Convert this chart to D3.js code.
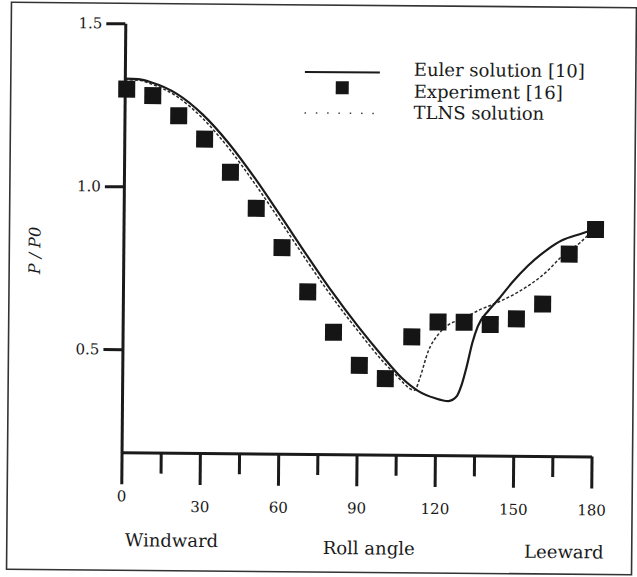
<!DOCTYPE html>
<html>
<head>
<meta charset="utf-8">
<script src="https://cdn.jsdelivr.net/npm/d3@7"></script>
<style>
  body { margin: 0; background: #fff; }
</style>
</head>
<body>
<div id="chart"></div>
<script>
// Experiment [16] (squares)
const expAngles = [0, 10, 20, 30, 40, 50, 60, 70, 80, 90, 100, 110, 120, 130, 140, 150, 160, 170, 180];
const expValues = [1.298, 1.279, 1.218, 1.147, 1.046, 0.936, 0.816, 0.681, 0.558, 0.457, 0.417, 0.546, 0.592, 0.592, 0.586, 0.604, 0.650, 0.804, 0.880];

// Euler solution [10] (solid)
const eulerAngles = [0, 5, 10, 20, 30, 40, 50, 60, 70, 80, 90, 100, 107, 113, 120, 125, 128, 130, 132, 134, 136, 140, 144, 149, 155, 162, 168, 175, 180];
const eulerValues = [1.330, 1.329, 1.320, 1.285, 1.222, 1.135, 1.030, 0.915, 0.797, 0.683, 0.578, 0.482, 0.420, 0.382, 0.358, 0.350, 0.363, 0.400, 0.460, 0.530, 0.580, 0.628, 0.665, 0.715, 0.767, 0.815, 0.846, 0.866, 0.880];

// TLNS solution (dashed)
const tlnsAngles = [0, 5, 10, 20, 30, 40, 50, 60, 70, 80, 90, 100, 105, 108, 110, 112, 114, 117, 121, 125, 130, 136, 143, 150, 156, 162, 168, 175, 180];
const tlnsValues = [1.327, 1.326, 1.315, 1.277, 1.210, 1.120, 1.013, 0.898, 0.780, 0.667, 0.564, 0.468, 0.427, 0.402, 0.388, 0.382, 0.420, 0.500, 0.555, 0.585, 0.602, 0.628, 0.652, 0.680, 0.710, 0.748, 0.797, 0.840, 0.880];

// axes
const majorTicks = [0, 30, 60, 90, 120, 150, 180];
const minorTicks = [15, 45, 75, 105, 135, 165];
const yTicks = [0.5, 1.0, 1.5];
const yBottom = 0.184;

const legendLabels = ['Euler solution [10]', 'Experiment [16]', 'TLNS solution'];

const width = 637, height = 577;
const ink = '#1a1a1a';
const serif = '"DejaVu Serif", serif';

const svg = d3.select('#chart')
  .append('svg')
  .attr('width', width)
  .attr('height', height);

// the scan is a little tilted
const g = svg.append('g')
  .attr('transform', 'rotate(0.5, 318, 288)');

// outer frame
g.append('rect')
  .attr('x', 9).attr('y', 5)
  .attr('width', 625).attr('height', 567)
  .attr('fill', 'none')
  .attr('stroke', '#333')
  .attr('stroke-width', 1.6);

const x = d3.scaleLinear().domain([0, 180]).range([123, 593]);
const y = d3.scaleLinear().domain([yBottom, 1.5]).range([454, 25]);

// x axis, long ticks with labels
const xAxis = g.append('g')
  .attr('transform', `translate(0, ${y(yBottom)})`)
  .call(d3.axisBottom(x).tickValues(majorTicks).tickSize(32).tickSizeOuter(0).tickFormat(d3.format('d')));

// x axis, short ticks
const xMinor = g.append('g')
  .attr('transform', `translate(0, ${y(yBottom)})`)
  .call(d3.axisBottom(x).tickValues(minorTicks).tickSize(21).tickSizeOuter(0).tickFormat(''));
xMinor.select('.domain').remove();

[xAxis, xMinor].forEach(a => {
  a.selectAll('line').attr('stroke', ink).attr('stroke-width', 3);
  a.selectAll('.domain').attr('stroke', ink).attr('stroke-width', 3);
});

xAxis.selectAll('text')
  .attr('dy', 0)
  .attr('y', d => d === 0 ? 49 : 59)
  .style('font-size', '15px')
  .style('font-family', serif)
  .attr('fill', ink);

// y axis
const yAxis = g.append('g')
  .attr('transform', `translate(${x(0)}, 0)`)
  .call(d3.axisLeft(y).tickValues(yTicks).tickSize(19).tickSizeOuter(0).tickPadding(4).tickFormat(d3.format('.1f')));
yAxis.selectAll('line').attr('stroke', ink).attr('stroke-width', 3);
yAxis.select('.domain').attr('stroke', ink).attr('stroke-width', 3);
yAxis.selectAll('text')
  .style('font-size', '15px')
  .style('font-family', serif)
  .attr('fill', ink);

// axis titles
function title(xp, yp, anchor, txt) {
  return g.append('text')
    .attr('x', xp).attr('y', yp)
    .attr('text-anchor', anchor)
    .style('font-size', '18px')
    .style('font-family', serif)
    .attr('fill', ink)
    .text(txt);
}
title(127, 548, 'start', 'Windward');
title(371, 554, 'middle', 'Roll angle');
title(606, 556, 'end', 'Leeward');

g.append('text')
  .attr('transform', 'translate(40, 253) rotate(-90)')
  .attr('text-anchor', 'middle')
  .style('font-size', '16px')
  .style('font-style', 'italic')
  .style('font-family', serif)
  .attr('fill', ink)
  .text('P / P0');

// curves
const line = d3.line()
  .x(d => x(d[0]))
  .y(d => y(d[1]))
  .curve(d3.curveMonotoneX);

g.append('path')
  .datum(tlnsAngles.map((a, i) => [a, tlnsValues[i]]))
  .attr('d', line)
  .attr('fill', 'none')
  .attr('stroke', '#2a2a2a')
  .attr('stroke-width', 1.5)
  .attr('stroke-dasharray', '3,2');

g.append('path')
  .datum(eulerAngles.map((a, i) => [a, eulerValues[i]]))
  .attr('d', line)
  .attr('fill', 'none')
  .attr('stroke', ink)
  .attr('stroke-width', 2.2);

// experiment squares
const sq = 17;
g.selectAll('rect.exp')
  .data(expAngles.map((a, i) => [a, expValues[i]]))
  .enter()
  .append('rect')
  .attr('class', 'exp')
  .attr('x', d => x(d[0]) - sq / 2 + 2)
  .attr('y', d => y(d[1]) - sq / 2)
  .attr('width', sq)
  .attr('height', sq)
  .attr('fill', '#151515');

// legend
const legend = g.append('g').attr('transform', 'translate(303, 0)');
legend.append('line')
  .attr('x1', 0).attr('x2', 75).attr('y1', 72).attr('y2', 72)
  .attr('stroke', ink).attr('stroke-width', 2);
legend.append('rect')
  .attr('x', 31).attr('y', 81).attr('width', 13).attr('height', 13)
  .attr('fill', '#151515');
legend.append('line')
  .attr('x1', 0).attr('x2', 70).attr('y1', 113).attr('y2', 113)
  .attr('stroke', '#444').attr('stroke-width', 1.5)
  .attr('stroke-dasharray', '1.5,9.8');

legend.selectAll('text.lab')
  .data(legendLabels)
  .enter()
  .append('text')
  .attr('class', 'lab')
  .attr('x', 109)
  .attr('y', (d, i) => [75, 97, 118][i])
  .style('font-size', '18px')
  .style('font-family', serif)
  .attr('fill', ink)
  .text(d => d);
</script>
</body>
</html>
